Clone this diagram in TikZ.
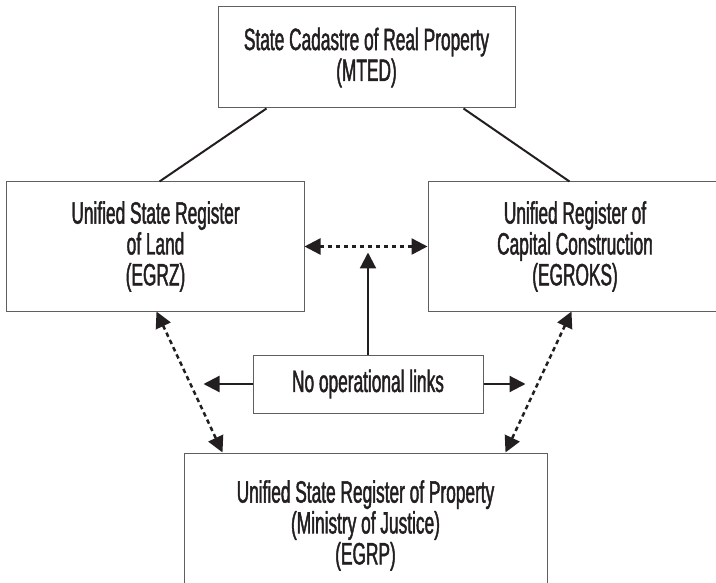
\documentclass[tikz,border=0pt]{standalone}
\usepackage{fontspec}
\setmainfont[FakeStretch=0.56, FakeBold=1.4]{Liberation Sans}
\usetikzlibrary{arrows.meta, positioning, calc}
\definecolor{boxgray}{RGB}{95,95,95}
\definecolor{inkdark}{RGB}{35,31,32}

\begin{document}
\begin{tikzpicture}[x=1bp, y=-1bp,
  regbox/.style={draw=boxgray, line width=1bp, align=center, inner sep=0pt,
    font=\fontsize{31}{31}\selectfont, text=inkdark},
  tiparrow/.style={-{Triangle[length=16bp, width=16bp]}, line width=2.2bp, draw=inkdark},
  dlink/.style={{Triangle[length=16bp, width=16bp]}-{Triangle[length=16bp, width=16bp]},
    dash pattern=on 4.5bp off 3.5bp, line width=2.5bp, draw=inkdark},
  plainlink/.style={line width=2bp, draw=inkdark}]
  \useasboundingbox (0,0) rectangle (716,583);
  % registers
  \node[regbox, minimum width=297bp, minimum height=101bp] (mted) at (366.5,57.5) {State Cadastre of Real Property\\(MTED)};
  \node[regbox, minimum width=297bp, minimum height=129bp] (egrz) at (155.5,246.5) {Unified State Register\\of Land\\(EGRZ)};
  \node[regbox, minimum width=294bp, minimum height=129bp] (egroks) at (575,246.5) {Unified Register of\\Capital Construction\\(EGROKS)};
  \node[regbox, minimum width=363bp, minimum height=145bp] (egrp) at (365.5,525.5) {Unified State Register of Property\\(Ministry of Justice)\\(EGRP)};
  \node[regbox, minimum width=230bp, minimum height=58bp] (nolinks) at (368,384) {No operational links};
  % free ends of the arrows
  \coordinate[left=49bp of nolinks.west] (ltip);
  \coordinate[right=42bp of nolinks.east] (rtip);
  \coordinate[above=102bp of nolinks.north] (utip);
  % links
  \draw[plainlink] ([xshift=49bp]mted.south west) -- ([xshift=153bp]egrz.north west);
  \draw[plainlink] ([xshift=-52bp]mted.south east) -- ([xshift=142bp]egroks.north west);
  \draw[dlink] (egrz.east) -- (egroks.west);
  \draw[dlink] ([xshift=150bp]egrz.south west) -- ([xshift=39bp]egrp.north west);
  \draw[dlink] ([xshift=144bp]egroks.south west) -- ([xshift=-42bp]egrp.north east);
  \draw[tiparrow] (nolinks.north) -- (utip);
  \draw[tiparrow] (nolinks.west) -- (ltip);
  \draw[tiparrow] (nolinks.east) -- (rtip);
\end{tikzpicture}
\end{document}
